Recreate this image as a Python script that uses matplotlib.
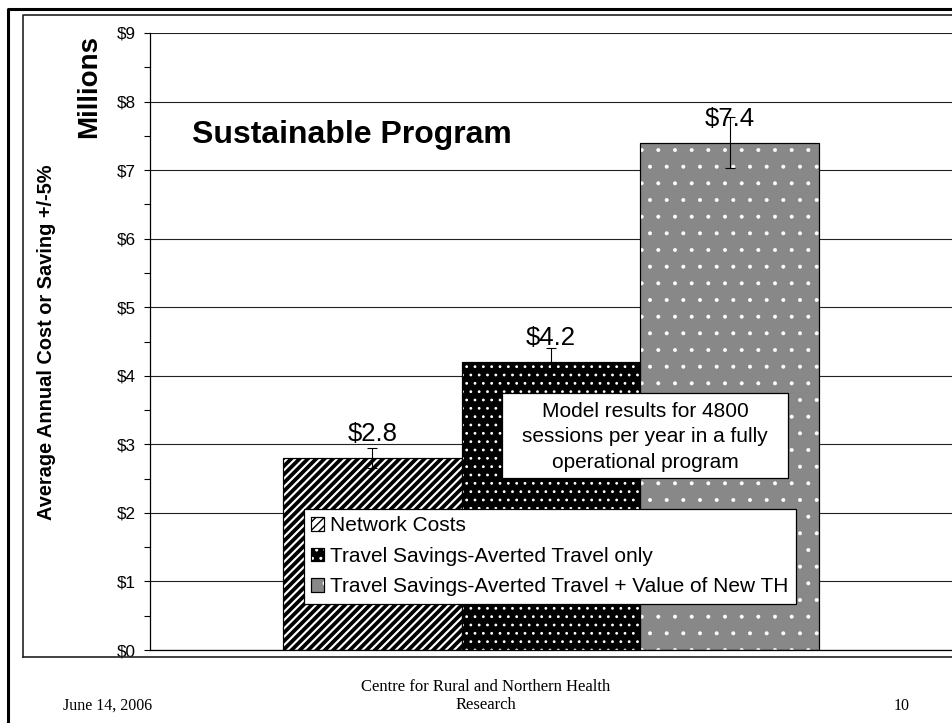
import matplotlib
matplotlib.use('Agg')
import matplotlib.pyplot as plt
from matplotlib.patches import Patch, Rectangle
from matplotlib.lines import Line2D

categories = ['Network Costs',
              'Travel Savings-Averted Travel only',
              'Travel Savings-Averted Travel + Value of New TH']
values = [2.8, 4.2, 7.4]
err_frac = 0.05
yticks = [0, 1, 2, 3, 4, 5, 6, 7, 8, 9]
ytick_labels = ['$' + str(t) for t in yticks]

W, H = 952, 723
plt.rcParams['font.family'] = ['Liberation Sans', 'DejaVu Sans']


def fx(px):
    return px / W


def fy(py):
    return 1 - py / H


fig = plt.figure(figsize=(W / 100, H / 100), dpi=100)
ax = fig.add_axes([fx(150), fy(650), fx(960) - fx(150), fy(33) - fy(650)])

x = list(range(len(values)))
styles = [dict(fc='white', hc='black', hatch='////', hlw=2.7),
          dict(fc='black', hc='white', hatch='..', hlw=0.8),
          dict(fc='#888888', hc='white', hatch='.', hlw=0.4)]

handles = []
for i, v in enumerate(values):
    st = styles[i]
    ax.bar(x[i], v, width=1.0, color=st['fc'], edgecolor='black', linewidth=0.8, zorder=2)
    over = ax.bar(x[i], v, width=1.0, color='none', edgecolor=st['hc'], linewidth=0,
                  hatch=st['hatch'], zorder=2.1)
    for p in over:
        if hasattr(p, 'set_hatch_linewidth'):
            p.set_hatch_linewidth(st['hlw'])
    ax.bar(x[i], v, width=1.0, color='none', edgecolor='black', linewidth=0.8, zorder=2.2)
    h1 = Patch(facecolor=st['fc'], edgecolor='black', linewidth=0.8)
    h2 = Patch(facecolor='none', edgecolor=st['hc'], linewidth=0, hatch=st['hatch'])
    if hasattr(h2, 'set_hatch_linewidth'):
        h2.set_hatch_linewidth(st['hlw'])
    h3 = Patch(facecolor='none', edgecolor='black', linewidth=0.8)
    handles.append((h1, h2, h3))

ax.errorbar(x, values, yerr=[v * err_frac for v in values], fmt='none', ecolor='black',
            elinewidth=0.8, capsize=3.5, capthick=0.8, zorder=3)

for i, v in enumerate(values):
    ax.annotate('$' + str(v), (x[i], v), xytext=(0, 17), textcoords='offset points',
                ha='center', va='center', fontsize=18.5, zorder=4)

ax.set_xlim(-1.244, 3.289)
ax.set_ylim(0, 9)
ax.set_yticks(yticks)
ax.set_yticklabels(ytick_labels, fontsize=12.3)
ax.set_yticks([t + 0.5 for t in yticks[:-1]], minor=True)
ax.tick_params(axis='y', which='major', length=4, width=0.8, pad=6)
ax.tick_params(axis='y', which='minor', length=4, width=0.8)
ax.set_xticks([])
ax.yaxis.grid(True, color='#222222', linewidth=0.8)
ax.set_axisbelow(True)
for s in ['top', 'right']:
    ax.spines[s].set_visible(False)
ax.spines['left'].set_linewidth(0.9)
ax.spines['bottom'].set_linewidth(0.9)

leg = ax.legend(handles, categories, loc='upper left',
                bbox_to_anchor=(fx(304), fy(509)), bbox_transform=fig.transFigure,
                borderaxespad=0, fontsize=15, handlelength=0.62, handleheight=0.62,
                handletextpad=0.3, labelspacing=0.55, borderpad=0.35, fancybox=False,
                framealpha=1, edgecolor='black')
leg.get_frame().set_linewidth(0.9)
leg.set_zorder(5)

# text box
fig.add_artist(Rectangle((fx(502), fy(478)), fx(788) - fx(502), fy(393) - fy(478),
                         transform=fig.transFigure, facecolor='white', edgecolor='black',
                         linewidth=0.9, zorder=6))
fig.text(fx(645), fy(437), 'Model results for 4800\nsessions per year in a fully\noperational program',
         ha='center', va='center', fontsize=15, linespacing=1.45, zorder=7)

fig.text(fx(192), fy(143), 'Sustainable Program', fontsize=23, fontweight='bold',
         ha='left', va='baseline')
fig.text(fx(47), fy(342), 'Average Annual Cost or Saving +/-5%', rotation=90,
         fontsize=14.4, fontweight='bold', ha='center', va='center')
fig.text(fx(89), fy(86), 'Millions', rotation=90, fontsize=20, fontweight='bold',
         ha='center', va='center')

# slide frames
fig.add_artist(Line2D([fx(23), fx(23), 1.0], [fy(657), fy(15), fy(15)],
                      transform=fig.transFigure, color='#222222', linewidth=1.2))
fig.add_artist(Line2D([fx(23), 1.0], [fy(657), fy(657)],
                      transform=fig.transFigure, color='#222222', linewidth=1.2))
fig.add_artist(Line2D([fx(8), fx(8), 1.0], [0, fy(9), fy(9)],
                      transform=fig.transFigure, color='black', linewidth=2.2))

# footer
serif = ['Liberation Serif', 'DejaVu Serif']
fig.text(fx(63), fy(706), 'June 14, 2006', family=serif, fontsize=11.5, ha='left', va='center')
fig.text(fx(486), fy(696), 'Centre for Rural and Northern Health\nResearch', family=serif,
         fontsize=12, ha='center', va='center', linespacing=1.2)
fig.text(fx(902), fy(706), '10', family=serif, fontsize=11.5, ha='center', va='center')

fig.savefig('out.png', dpi=100)
